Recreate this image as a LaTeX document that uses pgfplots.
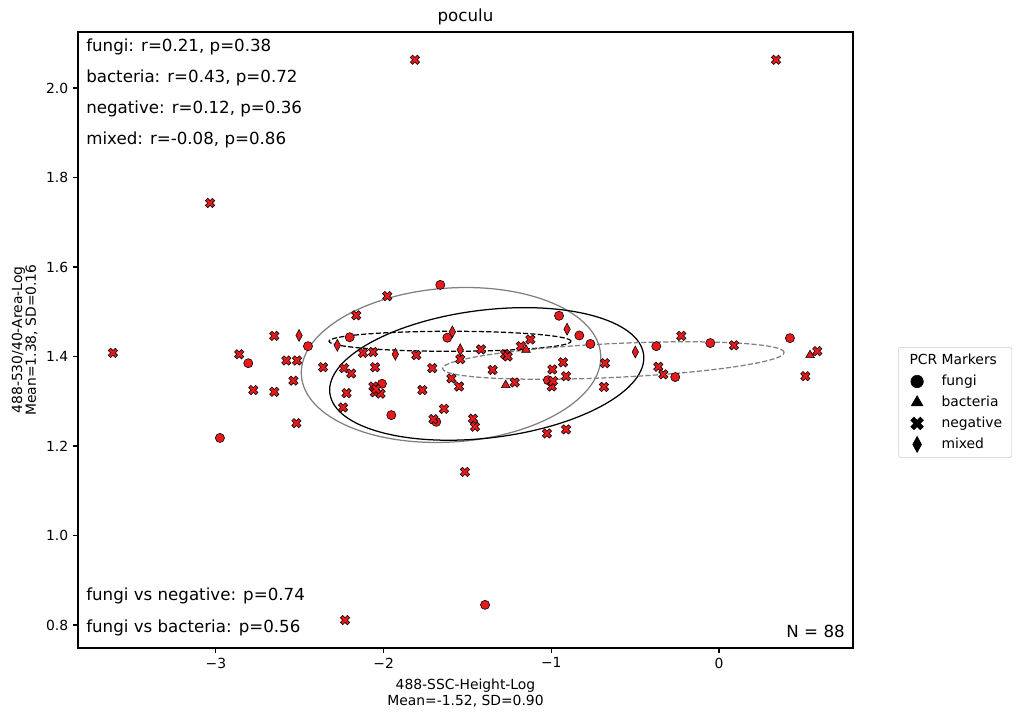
\documentclass[border=0pt]{standalone}
\usepackage{pgfplots}
\pgfplotsset{compat=1.18}
\usepackage{fontspec}
\setmainfont{DejaVu Sans}
\definecolor{ptred}{RGB}{228,26,28}
\definecolor{lgray}{RGB}{204,204,204}
\definecolor{egray}{RGB}{128,128,128}

\pgfdeclareplotmark{Xf}{%
 \pgftransformrotate{45}%
 \pgfpathmoveto{\pgfqpoint{0.35\pgfplotmarksize}{1.05\pgfplotmarksize}}%
 \pgfpathlineto{\pgfqpoint{-0.35\pgfplotmarksize}{1.05\pgfplotmarksize}}%
 \pgfpathlineto{\pgfqpoint{-0.35\pgfplotmarksize}{0.35\pgfplotmarksize}}%
 \pgfpathlineto{\pgfqpoint{-1.05\pgfplotmarksize}{0.35\pgfplotmarksize}}%
 \pgfpathlineto{\pgfqpoint{-1.05\pgfplotmarksize}{-0.35\pgfplotmarksize}}%
 \pgfpathlineto{\pgfqpoint{-0.35\pgfplotmarksize}{-0.35\pgfplotmarksize}}%
 \pgfpathlineto{\pgfqpoint{-0.35\pgfplotmarksize}{-1.05\pgfplotmarksize}}%
 \pgfpathlineto{\pgfqpoint{0.35\pgfplotmarksize}{-1.05\pgfplotmarksize}}%
 \pgfpathlineto{\pgfqpoint{0.35\pgfplotmarksize}{-0.35\pgfplotmarksize}}%
 \pgfpathlineto{\pgfqpoint{1.05\pgfplotmarksize}{-0.35\pgfplotmarksize}}%
 \pgfpathlineto{\pgfqpoint{1.05\pgfplotmarksize}{0.35\pgfplotmarksize}}%
 \pgfpathlineto{\pgfqpoint{0.35\pgfplotmarksize}{0.35\pgfplotmarksize}}%
 \pgfpathclose
 \pgfusepathqfillstroke
}
\pgfdeclareplotmark{thind}{%
 \pgfpathmoveto{\pgfqpoint{0pt}{1.3\pgfplotmarksize}}%
 \pgfpathlineto{\pgfqpoint{0.7\pgfplotmarksize}{0pt}}%
 \pgfpathlineto{\pgfqpoint{0pt}{-1.3\pgfplotmarksize}}%
 \pgfpathlineto{\pgfqpoint{-0.7\pgfplotmarksize}{0pt}}%
 \pgfpathclose
 \pgfusepathqfillstroke
}

\pgfplotstableread{
x y
-1.813 2.063
0.340 2.063
-3.035 1.743
-3.614 1.408
-2.230 0.811
-1.515 1.142
-2.861 1.405
-2.652 1.446
-2.580 1.391
-2.516 1.391
-2.538 1.346
-2.777 1.325
-2.652 1.321
-2.520 1.251
-2.361 1.376
-1.978 1.535
-2.163 1.492
-2.123 1.408
-2.063 1.410
-1.805 1.403
-2.236 1.374
-2.193 1.362
-2.051 1.376
-1.710 1.374
-1.596 1.351
-2.061 1.333
-2.052 1.320
-2.018 1.317
-2.045 1.327
-2.221 1.318
-1.769 1.325
-2.242 1.286
-1.640 1.283
-1.703 1.260
-1.419 1.416
-1.543 1.394
-1.550 1.333
-1.467 1.261
-1.455 1.243
-1.350 1.370
-1.276 1.405
-1.260 1.400
-1.218 1.342
-1.181 1.423
-1.125 1.438
-0.680 1.385
-0.930 1.387
-0.994 1.371
-0.912 1.356
-0.997 1.333
-0.990 1.345
-0.686 1.332
-1.026 1.228
-0.912 1.237
-0.225 1.446
0.089 1.425
0.586 1.412
0.515 1.356
-0.362 1.377
-0.332 1.360
}\negative

\pgfplotstableread{
x y
-2.976 1.218
-1.395 0.845
-2.807 1.385
-2.451 1.423
-1.662 1.560
-2.202 1.443
-1.620 1.442
-2.010 1.339
-1.954 1.269
-1.686 1.254
-0.954 1.491
-0.833 1.447
-0.767 1.428
-1.020 1.347
-0.374 1.423
-0.052 1.430
0.423 1.441
-0.261 1.354
}\fungi

\pgfplotstableread{
x y
-1.272 1.336
-1.151 1.415
0.543 1.403
}\bacteria

\pgfplotstableread{
x y
-2.504 1.447
-2.276 1.425
-1.930 1.405
-1.590 1.455
-1.543 1.415
-0.906 1.461
-0.499 1.410
}\mixed

\begin{document}
\begin{tikzpicture}
\begin{axis}[
  scale only axis, width=558pt, height=443.52pt,
  xmin=-3.8223, xmax=0.7990, ymin=0.7486, ymax=2.1251,
  xtick={-3,-2,-1,0}, xticklabels={−3,−2,−1,0},
  ytick={0.8,1.0,1.2,1.4,1.6,1.8,2.0},
  yticklabels={0.8,1.0,1.2,1.4,1.6,1.8,2.0},
  tick align=outside, tick pos=left, major tick length=3.5pt,
  axis line style={line width=0.8pt},
  every tick/.style={black, line width=0.8pt},
  tick label style={font=\fontsize{10}{12}\selectfont},
  legend style={at={(1.0581,0.4886)}, anchor=north west, draw=lgray,
    rounded corners=2pt, font=\fontsize{10}{12}\selectfont,
    row sep=2pt, column sep=11pt, inner xsep=5pt, inner ysep=3pt},
  legend cell align=left,
  pt/.style={only marks, mark options={fill=ptred, draw=black, line width=0.4pt}},
]
\coordinate (LL) at (rel axis cs:0,0);
\addplot[pt, mark=*, mark size=3.3pt, forget plot] table {\fungi};
\addplot[pt, mark=Xf, mark size=3.4pt, forget plot] table {\negative};
\addplot[pt, mark=triangle*, mark size=3.6pt, forget plot] table {\bacteria};
\addplot[pt, mark=thind, mark size=3.3pt, forget plot] table {\mixed};

\draw[egray, line width=0.9pt, rotate around={4:(axis cs:-1.598,1.381)}]
  (axis cs:-1.598,1.381) ellipse [x radius=108pt, y radius=55.4pt];
\draw[black, line width=0.9pt, rotate around={7:(axis cs:-1.385,1.361)}]
  (axis cs:-1.385,1.361) ellipse [x radius=113.8pt, y radius=46pt];
\draw[black, line width=0.9pt, dash pattern=on 3.7pt off 1.6pt]
  (axis cs:-1.604,1.434) ellipse [x radius=87.1pt, y radius=7.2pt];
\draw[egray, line width=0.9pt, dash pattern=on 3.7pt off 1.6pt, rotate around={2.7:(axis cs:-0.630,1.391)}]
  (axis cs:-0.630,1.391) ellipse [x radius=123.1pt, y radius=12.2pt];

\addlegendimage{empty legend}
\addlegendentry{\hspace{-23pt}PCR Markers}
\addlegendimage{only marks, mark=*, mark size=4.5pt, mark options={fill=black, draw=black}}
\addlegendentry{fungi}
\addlegendimage{only marks, mark=triangle*, mark size=4.9pt, mark options={fill=black, draw=black}}
\addlegendentry{bacteria}
\addlegendimage{only marks, mark=Xf, mark size=4.6pt, mark options={fill=black, draw=black}}
\addlegendentry{negative}
\addlegendimage{only marks, mark=thind, mark size=4.5pt, mark options={fill=black, draw=black}}
\addlegendentry{mixed}
\end{axis}

\begin{scope}[x=0.72pt, y=-0.72pt, shift={(LL)}, shift={(-78,-648)}]
 \path[use as bounding box] (0,0) rectangle (1019,717);
 \node[anchor=base, font=\fontsize{12}{14}\selectfont, inner sep=0] at (465.5,22) {poculu};
 \node[anchor=base, font=\fontsize{10}{12}\selectfont, inner sep=0] at (465.5,690) {488-SSC-Height-Log};
 \node[anchor=base, font=\fontsize{10}{12}\selectfont, inner sep=0] at (465.5,706) {Mean=-1.52, SD=0.90};
 \node[anchor=base, rotate=90, font=\fontsize{10}{12}\selectfont, inner sep=0] at (22,340) {488-530/40-Area-Log};
 \node[anchor=base, rotate=90, font=\fontsize{10}{12}\selectfont, inner sep=0] at (36,340) {Mean=1.38, SD=0.16};
 \begin{scope}[every node/.style={anchor=base west, font=\fontsize{12}{14}\selectfont, inner sep=0}]
  \node at (86,52) {fungi: r=0.21, p=0.38};
  \node at (86,83) {bacteria: r=0.43, p=0.72};
  \node at (86,114) {negative: r=0.12, p=0.36};
  \node at (86,145) {mixed: r=-0.08, p=0.86};
  \node at (86,601) {fungi vs negative: p=0.74};
  \node at (86,633) {fungi vs bacteria: p=0.56};
 \end{scope}
 \node[anchor=base east, font=\fontsize{12}{14}\selectfont, inner sep=0] at (845,638) {N = 88};
\end{scope}
\end{tikzpicture}
\end{document}
